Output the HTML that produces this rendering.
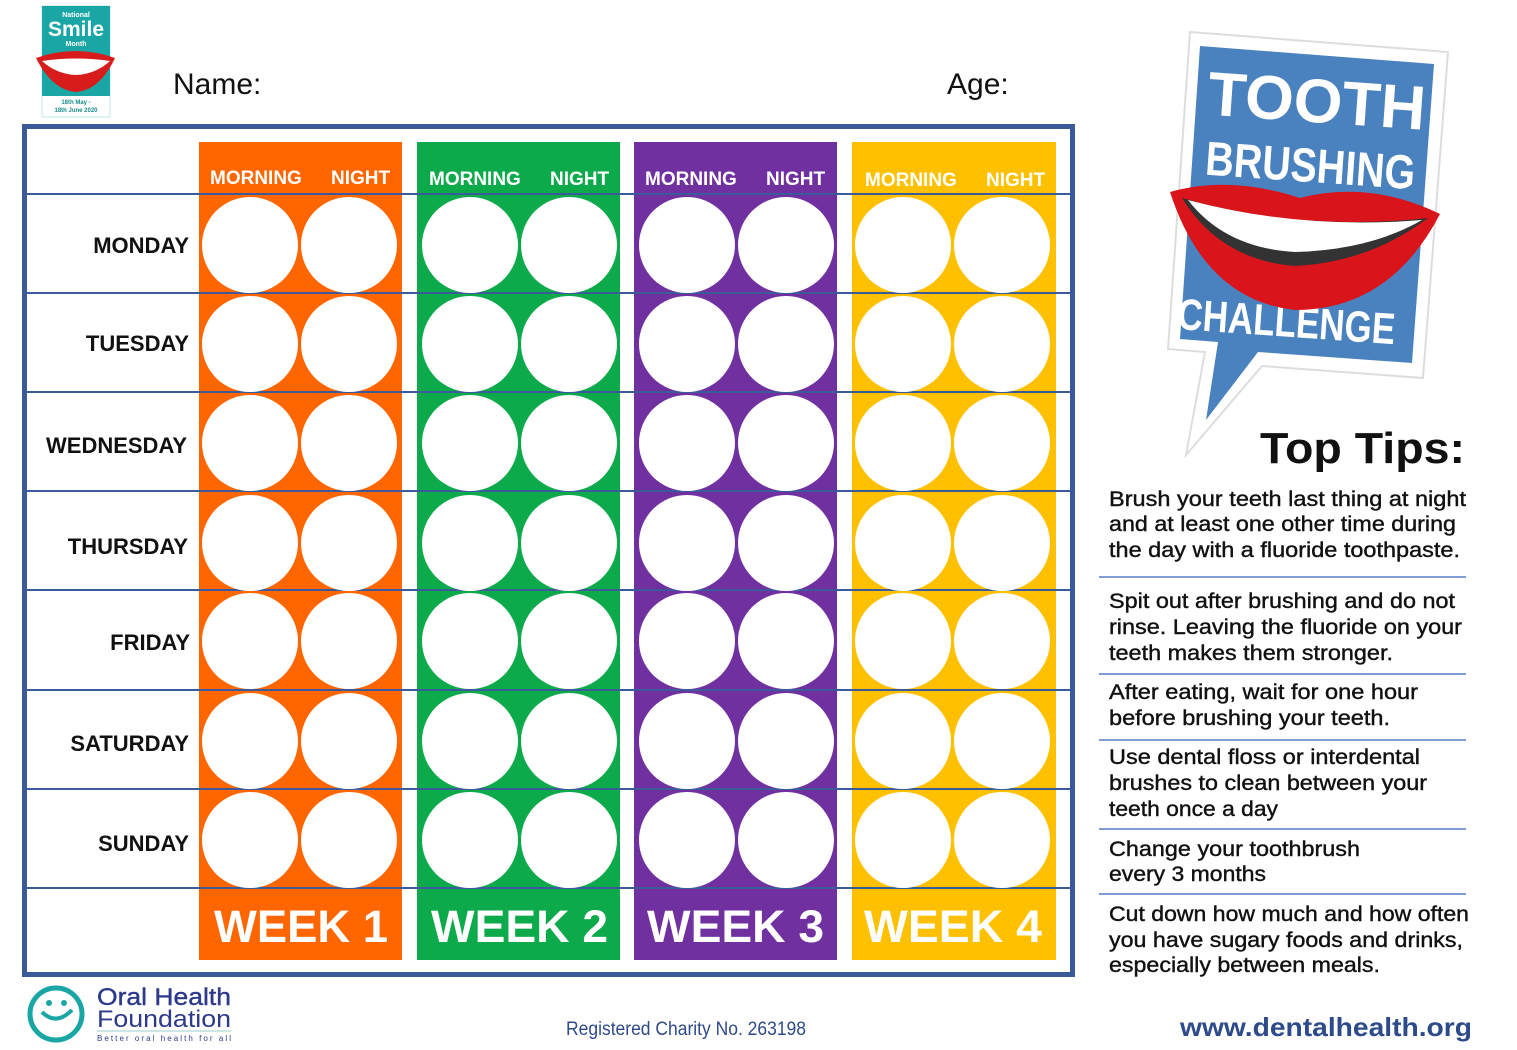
<!DOCTYPE html>
<html><head><meta charset="utf-8"><style>
html,body{margin:0;padding:0;background:#fff;}
svg{display:block;}
text{font-family:"Liberation Sans",sans-serif;}
</style></head><body>
<svg width="1517" height="1050" viewBox="0 0 1517 1050" xmlns="http://www.w3.org/2000/svg">
<rect width="1517" height="1050" fill="#fff"/>
<!-- Smile logo -->
<rect x="42" y="6" width="68" height="111" fill="#fff" stroke="#bfe3e3" stroke-width="1"/>
<rect x="42" y="6" width="68" height="90" fill="#1aa6a4"/>
<text x="76" y="17" font-size="7" fill="#fff" text-anchor="middle" font-weight="bold">National</text>
<text x="76" y="36" font-size="21" fill="#fff" text-anchor="middle" font-weight="bold">Smile</text>
<text x="76" y="46" font-size="7" fill="#fff" text-anchor="middle" font-weight="bold">Month</text>
<path d="M36 58 Q76 44 115 58 Q100 90 76 92 Q52 90 36 58Z" fill="#d81c1c"/>
<path d="M42 61 Q76 56 110 61 Q96 74 76 75 Q56 74 42 61Z" fill="#fff"/>
<text x="76" y="104" font-size="6" fill="#1a8a8a" text-anchor="middle" font-weight="bold">18th May -</text>
<text x="76" y="112" font-size="6" fill="#1a8a8a" text-anchor="middle" font-weight="bold">18th June 2020</text>
<text x="173" y="94" font-size="30" fill="#111">Name:</text>
<text x="947" y="94" font-size="30" fill="#111">Age:</text>

<!-- frame -->
<rect x="24.5" y="126.5" width="1048" height="848" fill="#fff" stroke="#3a5a99" stroke-width="5"/>
<rect x="199" y="142" width="203" height="818" fill="#ff6600"/>
<rect x="417" y="142" width="203" height="818" fill="#0daa4c"/>
<rect x="634" y="142" width="203" height="818" fill="#7030a0"/>
<rect x="852" y="142" width="204" height="818" fill="#ffc000"/>
<g font-size="19" fill="#fff" font-weight="bold">
<text x="210" y="184">MORNING</text><text x="331" y="184">NIGHT</text>
<text x="429" y="185">MORNING</text><text x="550" y="185">NIGHT</text>
<text x="645" y="185">MORNING</text><text x="766" y="185">NIGHT</text>
<text x="865" y="186">MORNING</text><text x="986" y="186">NIGHT</text>
</g>
<g stroke="#3a5a99" stroke-width="2">
<line x1="27" y1="194" x2="1070" y2="194"/>
<line x1="27" y1="293" x2="1070" y2="293"/>
<line x1="27" y1="392" x2="1070" y2="392"/>
<line x1="27" y1="491" x2="1070" y2="491"/>
<line x1="27" y1="590" x2="1070" y2="590"/>
<line x1="27" y1="690" x2="1070" y2="690"/>
<line x1="27" y1="789" x2="1070" y2="789"/>
<line x1="27" y1="888" x2="1070" y2="888"/>
</g>
<g fill="#fff">
<g id="r"><circle cx="250" cy="245" r="48"/><circle cx="349" cy="245" r="48"/><circle cx="470" cy="245" r="48"/><circle cx="569" cy="245" r="48"/><circle cx="687" cy="245" r="48"/><circle cx="786" cy="245" r="48"/><circle cx="903" cy="245" r="48"/><circle cx="1002" cy="245" r="48"/></g>
<use href="#r" y="99"/><use href="#r" y="198"/><use href="#r" y="298"/><use href="#r" y="396"/><use href="#r" y="496"/><use href="#r" y="595"/>
</g>
<g font-size="22" font-weight="bold" fill="#111" text-anchor="end">
<text x="189" y="253">MONDAY</text>
<text x="189" y="351">TUESDAY</text>
<text x="187" y="453">WEDNESDAY</text>
<text x="188" y="554">THURSDAY</text>
<text x="190" y="650">FRIDAY</text>
<text x="189" y="751">SATURDAY</text>
<text x="189" y="851">SUNDAY</text>
</g>
<g font-size="45" font-weight="bold" fill="#fff">
<text x="214" y="942" textLength="174" lengthAdjust="spacingAndGlyphs">WEEK 1</text>
<text x="431" y="942" textLength="177" lengthAdjust="spacingAndGlyphs">WEEK 2</text>
<text x="647" y="942" textLength="177" lengthAdjust="spacingAndGlyphs">WEEK 3</text>
<text x="864" y="942" textLength="178" lengthAdjust="spacingAndGlyphs">WEEK 4</text>
</g>

<!-- sign -->
<polygon points="1190,32 1448,52 1423,378 1262,366 1186,455 1205,352 1168,349" fill="#fff" stroke="#ddd" stroke-width="2"/>
<polygon points="1200,46 1434,64 1412,363 1258,352 1206,420 1218,342 1180,339" fill="#4a82bf"/>
<g transform="rotate(4 1310 200)" fill="#fff" font-weight="bold">
<text x="1310" y="122" font-size="62" text-anchor="middle" textLength="218" lengthAdjust="spacingAndGlyphs">TOOTH</text>
<text x="1308" y="182" font-size="48" text-anchor="middle" textLength="210" lengthAdjust="spacingAndGlyphs">BRUSHING</text>
<text x="1295" y="338" font-size="44" text-anchor="middle" textLength="218" lengthAdjust="spacingAndGlyphs">CHALLENGE</text>
</g>
<path d="M1170 192 Q1230 175 1300 198 Q1370 180 1440 214 Q1390 310 1295 310 Q1205 300 1170 192Z" fill="#d9141a"/>
<path d="M1182 198 Q1300 232 1428 218 Q1370 262 1295 266 Q1220 260 1182 198Z" fill="#333"/>
<path d="M1188 200 Q1300 230 1422 220 Q1370 250 1295 252 Q1225 248 1188 200Z" fill="#fff"/>
<text x="1465" y="463" font-size="44" font-weight="bold" fill="#111" text-anchor="end" textLength="205" lengthAdjust="spacingAndGlyphs">Top Tips:</text>

<g font-size="21" fill="#111" stroke="#111" stroke-width="0.4">
<text x="1109" y="506" textLength="357" lengthAdjust="spacingAndGlyphs">Brush your teeth last thing at night</text>
<text x="1109" y="531" textLength="347" lengthAdjust="spacingAndGlyphs">and at least one other time during</text>
<text x="1109" y="557" textLength="351" lengthAdjust="spacingAndGlyphs">the day with a fluoride toothpaste.</text>
<text x="1109" y="608" textLength="346" lengthAdjust="spacingAndGlyphs">Spit out after brushing and do not</text>
<text x="1109" y="634" textLength="353" lengthAdjust="spacingAndGlyphs">rinse. Leaving the fluoride on your</text>
<text x="1109" y="660" textLength="284" lengthAdjust="spacingAndGlyphs">teeth makes them stronger.</text>
<text x="1109" y="699" textLength="309" lengthAdjust="spacingAndGlyphs">After eating, wait for one hour</text>
<text x="1109" y="725" textLength="281" lengthAdjust="spacingAndGlyphs">before brushing your teeth.</text>
<text x="1109" y="764" textLength="311" lengthAdjust="spacingAndGlyphs">Use dental floss or interdental</text>
<text x="1109" y="790" textLength="318" lengthAdjust="spacingAndGlyphs">brushes to clean between your</text>
<text x="1109" y="816" textLength="169" lengthAdjust="spacingAndGlyphs">teeth once a day</text>
<text x="1109" y="856" textLength="251" lengthAdjust="spacingAndGlyphs">Change your toothbrush</text>
<text x="1109" y="881" textLength="157" lengthAdjust="spacingAndGlyphs">every 3 months</text>
<text x="1109" y="921" textLength="360" lengthAdjust="spacingAndGlyphs">Cut down how much and how often</text>
<text x="1109" y="947" textLength="354" lengthAdjust="spacingAndGlyphs">you have sugary foods and drinks,</text>
<text x="1109" y="972" textLength="271" lengthAdjust="spacingAndGlyphs">especially between meals.</text>
</g>
<g stroke="#7f9dd0" stroke-width="2">
<line x1="1099" y1="577" x2="1466" y2="577"/>
<line x1="1099" y1="674" x2="1466" y2="674"/>
<line x1="1099" y1="740" x2="1466" y2="740"/>
<line x1="1099" y1="829" x2="1466" y2="829"/>
<line x1="1099" y1="894" x2="1466" y2="894"/>
</g>

<!-- footer -->
<circle cx="56" cy="1014" r="26" fill="none" stroke="#1aa6a4" stroke-width="5"/>
<circle cx="49" cy="1003" r="3" fill="#1aa6a4"/><circle cx="64" cy="1003" r="3" fill="#1aa6a4"/>
<path d="M42 1012 Q56 1026 72 1010" fill="none" stroke="#1aa6a4" stroke-width="4"/>
<text x="97" y="1005" font-size="24" fill="#2d3a8a" stroke="#2d3a8a" stroke-width="0.4" textLength="134" lengthAdjust="spacingAndGlyphs">Oral Health</text>
<text x="97" y="1027" font-size="24" fill="#2d3a8a" textLength="134" lengthAdjust="spacingAndGlyphs">Foundation</text>
<line x1="97" y1="1031" x2="231" y2="1031" stroke="#9cc" stroke-width="1"/>
<text x="97" y="1041" font-size="8" fill="#2d3a8a" textLength="134">Better oral health for all</text>
<text x="566" y="1035" font-size="19" fill="#2d4a8a" textLength="240" lengthAdjust="spacingAndGlyphs">Registered Charity No. 263198</text>
<text x="1180" y="1036" font-size="26" font-weight="bold" fill="#2d4a8a" textLength="292" lengthAdjust="spacingAndGlyphs">www.dentalhealth.org</text>
</svg>
</body></html>
